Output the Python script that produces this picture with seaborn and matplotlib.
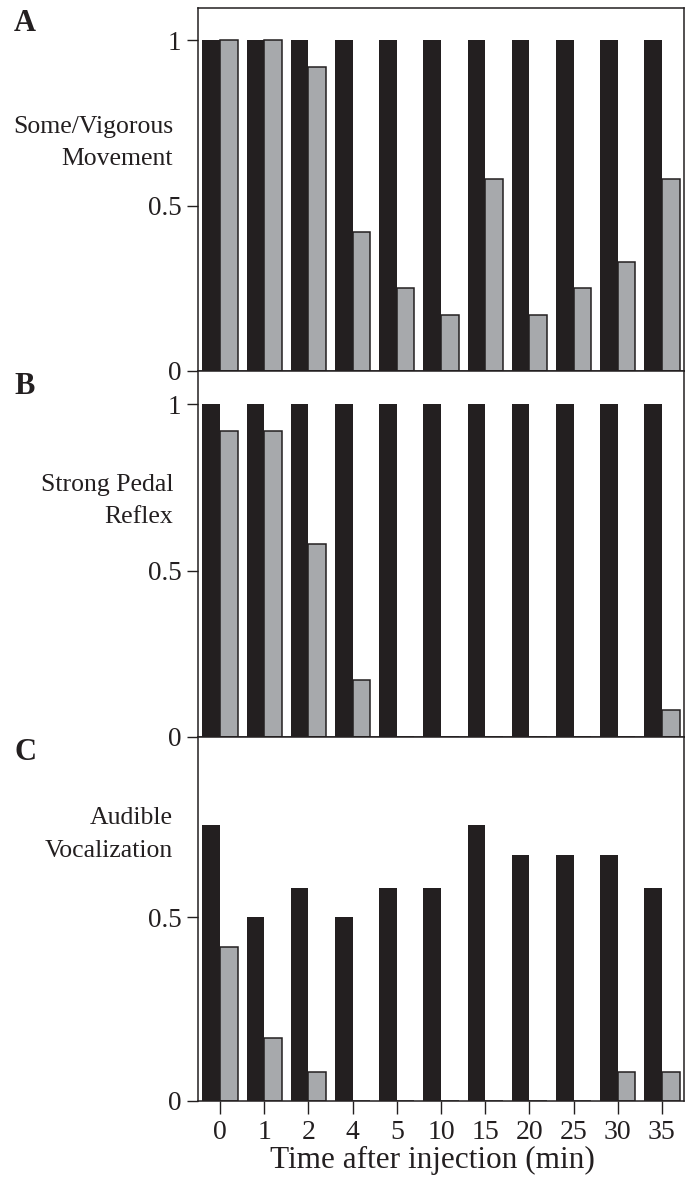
import matplotlib
matplotlib.use("Agg")
import matplotlib.pyplot as plt
import seaborn as sns
import pandas as pd
from matplotlib.transforms import blended_transform_factory

# ---- data ----
times = ["0", "1", "2", "4", "5", "10", "15", "20", "25", "30", "35"]
groups = ["control", "treated"]

movement_control = [1, 1, 1, 1, 1, 1, 1, 1, 1, 1, 1]
movement_treated = [1, 1, 0.92, 0.42, 0.25, 0.17, 0.58, 0.17, 0.25, 0.33, 0.58]

pedal_control = [1, 1, 1, 1, 1, 1, 1, 1, 1, 1, 1]
pedal_treated = [0.92, 0.92, 0.58, 0.17, 0, 0, 0, 0, 0, 0, 0.08]

vocal_control = [0.75, 0.5, 0.58, 0.5, 0.58, 0.58, 0.75, 0.67, 0.67, 0.67, 0.58]
vocal_treated = [0.42, 0.17, 0.08, 0, 0, 0, 0, 0, 0, 0.08, 0.08]

panel_letters = ["A", "B", "C"]
panel_ylabels = ["Some/Vigorous\nMovement", "Strong Pedal\nReflex", "Audible\nVocalization"]
xlabel = "Time after injection (min)"

BLACK = "#231f20"
GREY = "#a7a9ac"

sns.set_theme(style="white")
plt.rcParams["font.family"] = ["Liberation Serif", "DejaVu Serif"]

fig = plt.figure(figsize=(6.89, 11.81), dpi=100)
W, H = 689, 1181
left_px, right_px = 198, 684
panel_px = [(8, 371), (371, 737), (737, 1101)]
ylims = [(0, 1.097), (0, 1.10), (0, 0.99)]
yticks = [[0, 0.5, 1], [0, 0.5, 1], [0, 0.5]]
label_y = [0.69, 0.71, 0.725]

series = [
    (movement_control, movement_treated),
    (pedal_control, pedal_treated),
    (vocal_control, vocal_treated),
]

for i, ((top, bot), (ctrl, trt)) in enumerate(zip(panel_px, series)):
    ax = fig.add_axes([left_px / W, 1 - bot / H, (right_px - left_px) / W, (bot - top) / H])
    df = pd.DataFrame({
        "time": times * 2,
        "group": [groups[0]] * len(times) + [groups[1]] * len(times),
        "value": list(ctrl) + list(trt),
    })
    sns.barplot(data=df, x="time", y="value", hue="group", order=times,
                hue_order=groups, palette=[BLACK, GREY], saturation=1,
                errorbar=None, width=0.8, legend=False, ax=ax)
    for c, ec, lw in zip(ax.containers, [BLACK, BLACK], [0.0, 1.1]):
        for p in c:
            p.set_edgecolor(ec)
            p.set_linewidth(lw)
    ax.set_xlim(-0.5, 10.5)
    ax.set_ylim(*ylims[i])
    ax.set_yticks(yticks[i])
    ax.set_yticklabels(["0" if t == 0 else ("1" if t == 1 else "0.5") for t in yticks[i]])
    ax.set_ylabel("")
    for s in ax.spines.values():
        s.set_color(BLACK)
        s.set_linewidth(1.1)
    ax.tick_params(axis="y", left=True, length=8, width=1.0, color=BLACK,
                   labelsize=19.5, pad=4, labelcolor=BLACK)
    if i < 2:
        ax.tick_params(axis="x", bottom=False, labelbottom=False)
        ax.set_xlabel("")
    else:
        ax.tick_params(axis="x", bottom=True, length=9.5, width=1.0, color=BLACK,
                       labelsize=20, pad=4, labelcolor=BLACK)
        ax.set_xlabel(xlabel, fontsize=22.5, color=BLACK, labelpad=1,
                      x=0.482, ha="center")
    tr = blended_transform_factory(ax.transAxes, ax.transData)
    ax.text(-0.0514, label_y[i], panel_ylabels[i], transform=tr, ha="right",
            va="center", multialignment="right", fontsize=18.5, color=BLACK,
            linespacing=1.6)
    fig.text(14 / W, 1 - (top + 1) / H, panel_letters[i], ha="left", va="top",
             fontsize=22, fontweight="bold", color=BLACK)

fig.savefig("out.png", dpi=100)
